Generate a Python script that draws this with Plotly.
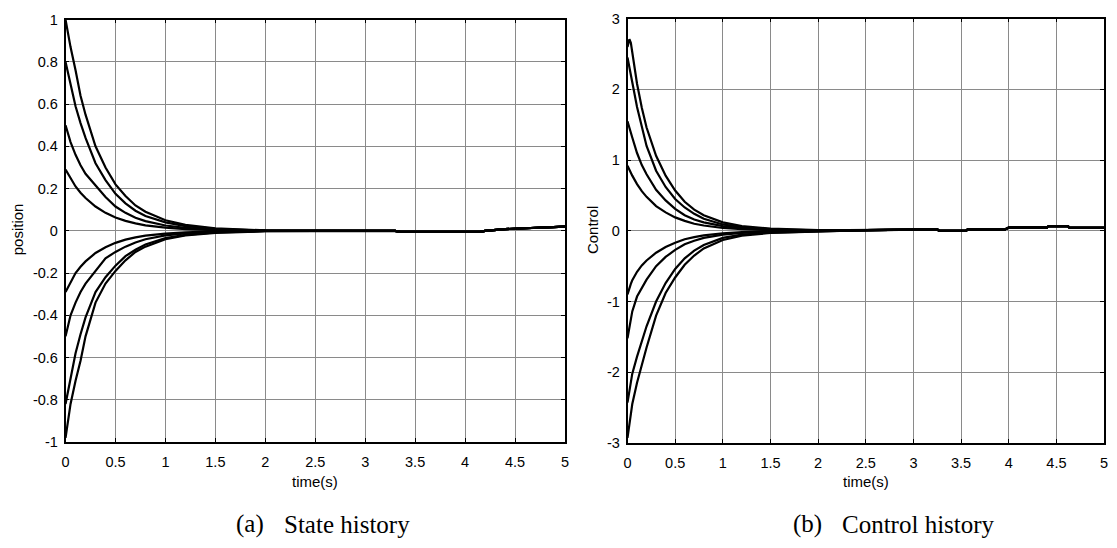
import plotly.graph_objects as go

# ---------------- data ----------------
# State history (position) -- early part of each curve
t_state = [0, 0.05, 0.1, 0.15, 0.2, 0.3, 0.4, 0.5, 0.6, 0.7, 0.8, 1.0, 1.2, 1.5, 2.0]
pos_p10 = [1.00, 0.87, 0.76, 0.64, 0.55, 0.40, 0.30, 0.22, 0.165, 0.12, 0.09, 0.05, 0.028, 0.012, 0.002]
pos_p08 = [0.80, 0.69, 0.59, 0.51, 0.44, 0.32, 0.24, 0.175, 0.13, 0.095, 0.07, 0.04, 0.022, 0.009, 0.001]
pos_p05 = [0.50, 0.42, 0.36, 0.31, 0.27, 0.215, 0.16, 0.115, 0.085, 0.062, 0.046, 0.025, 0.014, 0.006, 0.0]
pos_p03 = [0.29, 0.25, 0.21, 0.18, 0.155, 0.115, 0.085, 0.063, 0.047, 0.035, 0.026, 0.015, 0.008, 0.003, 0.0]
pos_n10 = [-0.98, -0.82, -0.71, -0.615, -0.50, -0.34, -0.25, -0.19, -0.14, -0.10, -0.075, -0.04, -0.022, -0.01, -0.002]
pos_n08 = [-0.82, -0.70, -0.58, -0.49, -0.41, -0.29, -0.22, -0.165, -0.12, -0.09, -0.065, -0.035, -0.019, -0.008, -0.001]
pos_n05 = [-0.50, -0.40, -0.34, -0.29, -0.25, -0.19, -0.13, -0.10, -0.075, -0.055, -0.04, -0.022, -0.012, -0.005, 0.0]
pos_n03 = [-0.29, -0.245, -0.20, -0.17, -0.145, -0.105, -0.078, -0.057, -0.042, -0.031, -0.023, -0.013, -0.007, -0.003, 0.0]
# common tail after all state curves have converged
t_state_tail = [2.5, 3.3, 3.35, 4.15, 4.2, 4.4, 4.6, 4.9, 5.0]
pos_tail = [0.0, 0.0, -0.005, -0.005, 0.0, 0.008, 0.012, 0.02, 0.02]

# Control history -- early part of each curve
t_ctrl = [0, 0.01, 0.02, 0.035, 0.05, 0.1, 0.15, 0.2, 0.3, 0.4, 0.5, 0.6, 0.7, 0.8, 1.0, 1.2, 1.5, 2.0]
u_p1 = [2.60, 2.69, 2.71, 2.66, 2.52, 2.08, 1.74, 1.46, 1.06, 0.78, 0.57, 0.41, 0.30, 0.22, 0.12, 0.065, 0.03, 0.01]
u_p2 = [2.45, 2.37, 2.29, 2.19, 2.10, 1.75, 1.47, 1.20, 0.85, 0.62, 0.45, 0.33, 0.24, 0.17, 0.09, 0.05, 0.022, 0.007]
u_p3 = [1.55, 1.50, 1.45, 1.38, 1.32, 1.10, 0.93, 0.80, 0.58, 0.43, 0.31, 0.22, 0.16, 0.12, 0.065, 0.035, 0.015, 0.005]
u_p4 = [0.92, 0.89, 0.86, 0.82, 0.78, 0.66, 0.56, 0.48, 0.35, 0.26, 0.19, 0.14, 0.10, 0.075, 0.04, 0.022, 0.01, 0.003]
u_n1 = [-2.93, -2.82, -2.70, -2.57, -2.45, -2.15, -1.90, -1.65, -1.20, -0.88, -0.66, -0.48, -0.35, -0.25, -0.13, -0.07, -0.03, -0.01]
u_n2 = [-2.43, -2.34, -2.25, -2.13, -2.02, -1.78, -1.55, -1.35, -1.00, -0.74, -0.54, -0.39, -0.28, -0.20, -0.10, -0.055, -0.025, -0.008]
u_n3 = [-1.52, -1.43, -1.35, -1.24, -1.14, -0.93, -0.80, -0.69, -0.50, -0.37, -0.27, -0.19, -0.14, -0.10, -0.055, -0.03, -0.013, -0.004]
u_n4 = [-0.90, -0.85, -0.80, -0.75, -0.70, -0.58, -0.49, -0.42, -0.31, -0.23, -0.17, -0.12, -0.09, -0.065, -0.035, -0.019, -0.008, -0.002]
t_ctrl_tail = [2.5, 3.25, 3.27, 3.55, 3.57, 3.96, 4.0, 4.4, 4.42, 4.62, 4.64, 5.0]
u_tail = [0.01, 0.02, 0.0, 0.0, 0.02, 0.02, 0.045, 0.045, 0.065, 0.065, 0.04, 0.04]

# tick labels
x_ticks = [0, 0.5, 1, 1.5, 2, 2.5, 3, 3.5, 4, 4.5, 5]
x_ticktext = ["0", "0.5", "1", "1.5", "2", "2.5", "3", "3.5", "4", "4.5", "5"]
pos_ticks = [-1, -0.8, -0.6, -0.4, -0.2, 0, 0.2, 0.4, 0.6, 0.8, 1]
pos_ticktext = ["-1", "-0.8", "-0.6", "-0.4", "-0.2", "0", "0.2", "0.4", "0.6", "0.8", "1"]
u_ticks = [-3, -2, -1, 0, 1, 2, 3]
u_ticktext = ["-3", "-2", "-1", "0", "1", "2", "3"]

# ---------------- figure ----------------
W, H = 1117, 548
fig = go.Figure()

line_style = dict(color="black", width=2.2)

for ys in [pos_p10, pos_p08, pos_p05, pos_p03, pos_n10, pos_n08, pos_n05, pos_n03]:
    fig.add_trace(go.Scatter(x=t_state + t_state_tail, y=ys + pos_tail, mode="lines",
                             line=line_style, xaxis="x", yaxis="y", showlegend=False,
                             hoverinfo="skip"))

for ys in [u_p1, u_p2, u_p3, u_p4, u_n1, u_n2, u_n3, u_n4]:
    fig.add_trace(go.Scatter(x=t_ctrl + t_ctrl_tail, y=ys + u_tail, mode="lines",
                             line=line_style, xaxis="x2", yaxis="y2", showlegend=False,
                             hoverinfo="skip"))

tick_font = dict(family="Liberation Sans, Arial", size=14.5, color="black")
grid_col = "#8a8a8a"

def xax(domain, anchor):
    return dict(domain=domain, anchor=anchor, range=[0, 5], tickvals=x_ticks, ticktext=x_ticktext,
                showline=True, linecolor="black", linewidth=1.5, mirror="ticks",
                ticks="inside", ticklen=4, tickcolor="black", tickwidth=1,
                showgrid=True, gridcolor=grid_col, gridwidth=1, zeroline=False,
                tickfont=tick_font, ticklabelstandoff=6, fixedrange=True)

def yax(domain, anchor, rng, tv, tt):
    return dict(domain=domain, anchor=anchor, range=rng, tickvals=tv, ticktext=tt,
                showline=True, linecolor="black", linewidth=1.5, mirror="ticks",
                ticks="inside", ticklen=4, tickcolor="black", tickwidth=1,
                showgrid=True, gridcolor=grid_col, gridwidth=1, zeroline=False,
                tickfont=tick_font, ticklabelstandoff=3, fixedrange=True)

fig.update_layout(
    width=W, height=H,
    margin=dict(l=0, r=0, t=0, b=0),
    paper_bgcolor="white", plot_bgcolor="white",
    xaxis=xax([62 / W, 565 / W], "y"),
    yaxis=yax([1 - 447 / H, 1 - 12 / H], "x", [-1, 1], pos_ticks, pos_ticktext),
    xaxis2=xax([628 / W, 1108 / W], "y2"),
    yaxis2=yax([1 - 448 / H, 1 - 11 / H], "x2", [-3, 3], u_ticks, u_ticktext),
)

lab_font = dict(family="Liberation Sans, Arial", size=15, color="black")
cap_font = dict(family="Liberation Serif, Times New Roman", size=25, color="black")

annotations = [
    dict(text="time(s)", x=313 / W, y=1 - 488 / H, xref="paper", yref="paper",
         xanchor="center", yanchor="middle", showarrow=False, font=lab_font),
    dict(text="time(s)", x=868 / W, y=1 - 488 / H, xref="paper", yref="paper",
         xanchor="center", yanchor="middle", showarrow=False, font=lab_font),
    dict(text="position", x=13 / W, y=1 - 228 / H, xref="paper", yref="paper", textangle=-90,
         xanchor="center", yanchor="middle", showarrow=False, font=lab_font),
    dict(text="Control", x=593 / W, y=1 - 229 / H, xref="paper", yref="paper", textangle=-90,
         xanchor="center", yanchor="middle", showarrow=False, font=lab_font),
    dict(text="(a)", x=232 / W, y=1 - 532 / H, xref="paper", yref="paper",
         xanchor="left", yanchor="middle", showarrow=False, font=cap_font),
    dict(text="State history", x=280 / W, y=1 - 532 / H, xref="paper", yref="paper",
         xanchor="left", yanchor="middle", showarrow=False, font=cap_font),
    dict(text="(b)", x=793 / W, y=1 - 532 / H, xref="paper", yref="paper",
         xanchor="left", yanchor="middle", showarrow=False, font=cap_font),
    dict(text="Control history", x=842 / W, y=1 - 532 / H, xref="paper", yref="paper",
         xanchor="left", yanchor="middle", showarrow=False, font=cap_font),
]
fig.update_layout(annotations=annotations)

fig.write_html("out.html", config={"displayModeBar": False})
